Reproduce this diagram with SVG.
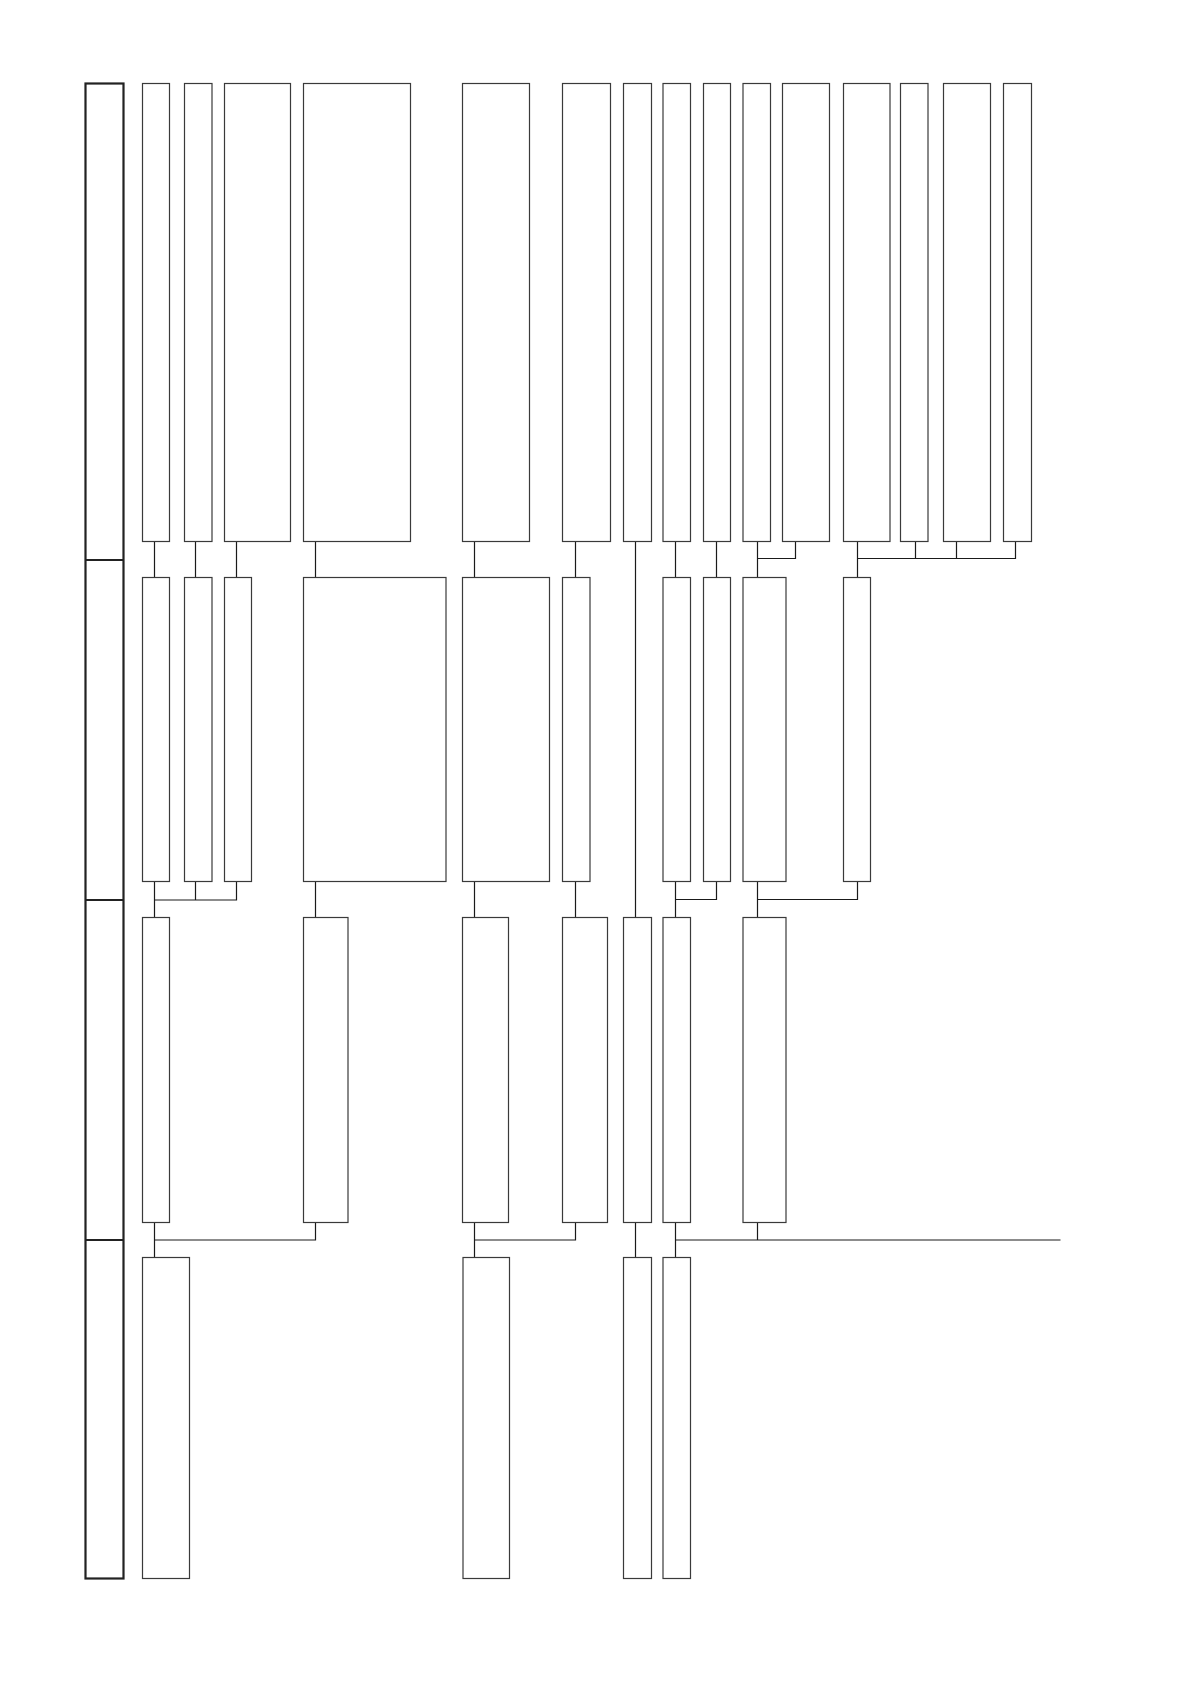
<svg xmlns="http://www.w3.org/2000/svg" width="1190" height="1682" viewBox="0 0 1190 1682">
<style>
.b{fill:#fff;stroke:#3a3a3a;stroke-width:1.2}
.lane{fill:none;stroke:#222;stroke-width:2.2}
.c{fill:none;stroke:#1a1a1a;stroke-width:1.2}
</style>
<rect width="1190" height="1682" fill="#fff"/>
<g id="lanes">
<rect class="lane" x="85.5" y="83.5" width="38" height="1495"/>
<line class="lane" x1="85.5" y1="560" x2="123.5" y2="560"/>
<line class="lane" x1="85.5" y1="900" x2="123.5" y2="900"/>
<line class="lane" x1="85.5" y1="1240" x2="123.5" y2="1240"/>
</g>
<g id="connectors">
<path class="c" d="M154.5 541.5V577.5M195.5 541.5V577.5M236.5 541.5V577.5M315.5 541.5V577.5M474.5 541.5V577.5M575.5 541.5V577.5M635.5 541.5V917.5M675.5 541.5V577.5M716.5 541.5V577.5"/>
<path class="c" d="M757.5 541.5V577.5M795.5 541.5V558.5H757.5"/>
<path class="c" d="M857.5 541.5V577.5M915.5 541.5V558.5M956.5 541.5V558.5M1015.5 541.5V558.5H857.5"/>
<path class="c" d="M154.5 881.5V917.5M195.5 881.5V900H154.5M236.5 881.5V900H195.5"/>
<path class="c" d="M315.5 881.5V917.5M474.5 881.5V917.5M575.5 881.5V917.5"/>
<path class="c" d="M675.5 881.5V917.5M716.5 881.5V899.5H675.5"/>
<path class="c" d="M757.5 881.5V917.5M857.5 881.5V899.5H757.5"/>
<path class="c" d="M154.5 1222.5V1257.5M315.5 1222.5V1240H154.5"/>
<path class="c" d="M474.5 1222.5V1257.5M575.5 1222.5V1240H474.5"/>
<path class="c" d="M635.5 1222.5V1257.5"/>
<path class="c" d="M675.5 1222.5V1257.5M757.5 1222.5V1240M675.5 1240H1060.5"/>
</g>
<g id="row1">
<rect id="n1_1" class="b" x="142.5" y="83.5" width="27" height="458"/>
<rect id="n1_2" class="b" x="184.5" y="83.5" width="27.5" height="458"/>
<rect id="n1_3" class="b" x="224.5" y="83.5" width="66" height="458"/>
<rect id="n1_4" class="b" x="303.5" y="83.5" width="107" height="458"/>
<rect id="n1_5" class="b" x="462.5" y="83.5" width="67" height="458"/>
<rect id="n1_6" class="b" x="562.5" y="83.5" width="48" height="458"/>
<rect id="n1_7" class="b" x="623.5" y="83.5" width="28" height="458"/>
<rect id="n1_8" class="b" x="663" y="83.5" width="27.5" height="458"/>
<rect id="n1_9" class="b" x="703.5" y="83.5" width="27" height="458"/>
<rect id="n1_10" class="b" x="743" y="83.5" width="27.5" height="458"/>
<rect id="n1_11" class="b" x="782.5" y="83.5" width="47" height="458"/>
<rect id="n1_12" class="b" x="843.5" y="83.5" width="46.5" height="458"/>
<rect id="n1_13" class="b" x="900.5" y="83.5" width="27.5" height="458"/>
<rect id="n1_14" class="b" x="943.5" y="83.5" width="47" height="458"/>
<rect id="n1_15" class="b" x="1003.5" y="83.5" width="28" height="458"/>
</g>
<g id="row2">
<rect id="n2_1" class="b" x="142.5" y="577.5" width="27" height="304"/>
<rect id="n2_2" class="b" x="184.5" y="577.5" width="27.5" height="304"/>
<rect id="n2_3" class="b" x="224.5" y="577.5" width="27" height="304"/>
<rect id="n2_4" class="b" x="303.5" y="577.5" width="142.5" height="304"/>
<rect id="n2_5" class="b" x="462.5" y="577.5" width="87" height="304"/>
<rect id="n2_6" class="b" x="562.5" y="577.5" width="27.5" height="304"/>
<rect id="n2_7" class="b" x="663" y="577.5" width="27.5" height="304"/>
<rect id="n2_8" class="b" x="703.5" y="577.5" width="27" height="304"/>
<rect id="n2_9" class="b" x="743" y="577.5" width="43" height="304"/>
<rect id="n2_10" class="b" x="843.5" y="577.5" width="27" height="304"/>
</g>
<g id="row3">
<rect id="n3_1" class="b" x="142.5" y="917.5" width="27" height="305"/>
<rect id="n3_2" class="b" x="303.5" y="917.5" width="44.5" height="305"/>
<rect id="n3_3" class="b" x="462.5" y="917.5" width="46" height="305"/>
<rect id="n3_4" class="b" x="562.5" y="917.5" width="45" height="305"/>
<rect id="n3_5" class="b" x="623.5" y="917.5" width="28" height="305"/>
<rect id="n3_6" class="b" x="663" y="917.5" width="27.5" height="305"/>
<rect id="n3_7" class="b" x="743" y="917.5" width="43" height="305"/>
</g>
<g id="row4">
<rect id="n4_1" class="b" x="142.5" y="1257.5" width="47" height="321"/>
<rect id="n4_2" class="b" x="463" y="1257.5" width="46.5" height="321"/>
<rect id="n4_3" class="b" x="623.5" y="1257.5" width="28" height="321"/>
<rect id="n4_4" class="b" x="663" y="1257.5" width="27.5" height="321"/>
</g>
</svg>
